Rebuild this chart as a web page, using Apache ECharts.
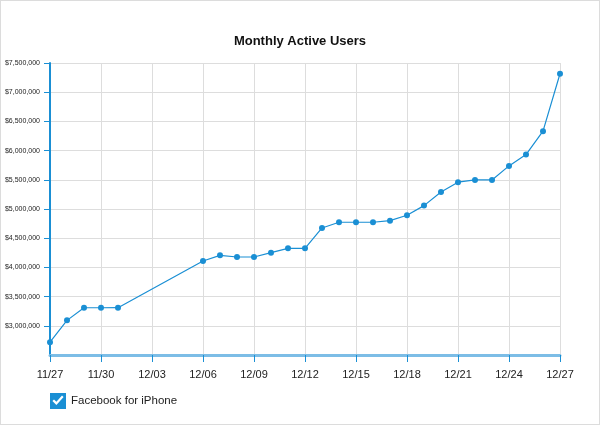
<!DOCTYPE html>
<html>
<head>
<meta charset="utf-8">
<script src="https://cdn.jsdelivr.net/npm/echarts@6/dist/echarts.min.js"></script>
<style>
html,body{margin:0;padding:0;background:#fff;}
#frame{position:absolute;left:0;top:0;width:598px;height:423px;border:1px solid #dcdcdc;}
#chart{position:absolute;left:0;top:0;width:600px;height:426px;}
</style>
</head>
<body>
<div id="frame"></div>
<div id="chart"></div>
<script>
var categories = ['11/27','11/28','11/29','11/30','12/01','12/02','12/03','12/04','12/05','12/06','12/07','12/08','12/09','12/10','12/11','12/12','12/13','12/14','12/15','12/16','12/17','12/18','12/19','12/20','12/21','12/22','12/23','12/24','12/25','12/26','12/27'];
var seriesName = 'Facebook for iPhone';
var values = [2720000,3093000,3309000,3309000,3310000,null,null,null,null,4109000,4207000,4178000,4178000,4252000,4327000,4327000,4675000,4773000,4773000,4773000,4800000,4893000,5058000,5292000,5459000,5498000,5498000,5738000,5932000,6333000,7316000];
var yMin = 2500000, yMax = 7500000, yStep = 500000;

var chart = echarts.init(document.getElementById('chart'));
var blue = '#1a8fd4';
chart.setOption({
  animation: false,
  title: {
    text: 'Monthly Active Users',
    left: 'center', top: 30,
    textStyle: {fontFamily: 'Liberation Sans', fontSize: 13, fontWeight: 'bold', color: '#111'}
  },
  legend: {
    left: 45, top: 388,
    itemWidth: 16, itemHeight: 16, itemGap: 7,
    icon: 'path://M0,0 L20,0 L20,20 L0,20 Z M3,10 L8,15 L17,5 L15,3 L8,11 L5,8 Z',
    textStyle: {fontFamily: 'Liberation Sans', fontSize: 11.5, color: '#222'},
    data: [seriesName]
  },
  grid: {left: 50, right: 40, top: 63, bottom: 71, containLabel: false},
  xAxis: {
    type: 'category',
    data: categories,
    boundaryGap: false,
    axisLine: {show: true, lineStyle: {color: '#7cbde6', width: 3}},
    axisTick: {show: true, interval: 2, length: 7, lineStyle: {color: blue, width: 1}},
    axisLabel: {interval: 2, margin: 14, fontFamily: 'Liberation Sans', fontSize: 11, color: '#222'},
    splitLine: {show: true, interval: 2, lineStyle: {color: '#dddddd', width: 1}}
  },
  yAxis: {
    type: 'value',
    min: yMin, max: yMax, interval: yStep,
    axisLine: {show: true, lineStyle: {color: blue, width: 2}},
    axisTick: {show: true, length: 6, lineStyle: {color: blue, width: 1}},
    axisLabel: {
      showMinLabel: false, margin: 10,
      fontFamily: 'Liberation Sans', fontSize: 7, color: '#222',
      formatter: function (v) { return '$' + v.toString().replace(/\B(?=(\d{3})+(?!\d))/g, ','); }
    },
    splitLine: {show: true, lineStyle: {color: '#dddddd', width: 1}}
  },
  series: [{
    name: seriesName,
    type: 'line',
    data: values,
    connectNulls: true,
    symbol: 'circle', symbolSize: 6,
    itemStyle: {color: blue},
    lineStyle: {color: blue, width: 1.2}
  }]
});
</script>
</body>
</html>
